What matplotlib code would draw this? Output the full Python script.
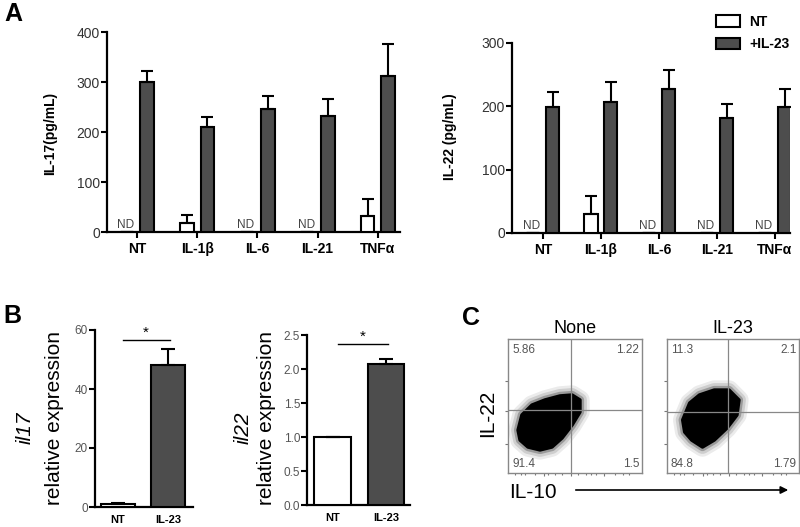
import numpy as np
import matplotlib
matplotlib.use('Agg')
import matplotlib.pyplot as plt
from matplotlib.patches import Patch, Polygon

plt.rcParams['font.family'] = ['Liberation Sans', 'DejaVu Sans']

# ---- panel A data (pg/mL) ----
cytokines = ['NT', 'IL-1β', 'IL-6', 'IL-21', 'TNFα']
il17_nt = [0, 18, 0, 0, 33]
il17_nt_err = [0, 17, 0, 0, 33]
il17_nd = [True, False, True, True, False]
il17_il23 = [300, 211, 247, 232, 312]
il17_il23_err = [22, 20, 25, 35, 65]

il22_nt = [0, 30, 0, 0, 0]
il22_nt_err = [0, 29, 0, 0, 0]
il22_nd = [True, False, True, True, True]
il22_il23 = [199, 207, 228, 181, 199]
il22_il23_err = [23, 31, 30, 22, 29]

# ---- panel B data (relative expression) ----
b_groups = ['NT', 'IL-23']
il17_expr = [1.0, 48.0]
il17_expr_err = [0.3, 5.5]
il22_expr = [1.0, 2.08]
il22_expr_err = [0.0, 0.06]

# ---- panel C data (flow quadrants, outline of the dense cell cloud in axis units) ----
flow_titles = ['None', 'IL-23']
quad_none = ['5.86', '1.22', '91.4', '1.5']
quad_il23 = ['11.3', '2.1', '84.8', '1.79']
gate_none = (0.47, 0.47)
gate_il23 = (0.459, 0.455)
cloud_none_x = [0.075, 0.104, 0.179, 0.276, 0.388, 0.478, 0.537, 0.537, 0.478, 0.403, 0.328, 0.239, 0.149, 0.090]
cloud_none_y = [0.320, 0.433, 0.507, 0.545, 0.575, 0.582, 0.545, 0.455, 0.358, 0.261, 0.194, 0.172, 0.194, 0.246]
cloud_il23_x = [0.119, 0.172, 0.246, 0.358, 0.470, 0.545, 0.530, 0.455, 0.358, 0.269, 0.187, 0.134]
cloud_il23_y = [0.396, 0.522, 0.582, 0.619, 0.619, 0.545, 0.433, 0.336, 0.246, 0.194, 0.246, 0.306]

DARK = '#4d4d4d'
W, H = 800, 527


def px_axes(fig, x0, x1, y_top, y_bot):
    return fig.add_axes([x0 / W, 1 - y_bot / H, (x1 - x0) / W, (y_bot - y_top) / H])


def style_bar_axes(ax, label_size=10, tick_color='#333333'):
    for s in ['top', 'right']:
        ax.spines[s].set_visible(False)
    for s in ['left', 'bottom']:
        ax.spines[s].set_linewidth(1.6)
    ax.tick_params(axis='y', length=4, width=1.5, labelsize=label_size, labelcolor=tick_color, pad=1)
    ax.tick_params(axis='x', length=4, width=1.5, pad=3)


fig = plt.figure(figsize=(8, 5.27), dpi=100)

# ---------------- panel A ----------------
def cytokine_panel(ax, nt, nt_err, nd, il23, il23_err, ymax, step):
    x = np.arange(len(cytokines))
    w, off = 0.23, 0.17
    ax.bar(x - off, nt, w, color='white', edgecolor='black', linewidth=1.5, zorder=3,
           yerr=[np.zeros(len(nt)), nt_err], capsize=4,
           error_kw=dict(elinewidth=1.5, capthick=1.5, ecolor='black'))
    ax.bar(x + off, il23, w, color=DARK, edgecolor='black', linewidth=1.5, zorder=3,
           yerr=[np.zeros(len(il23)), il23_err], capsize=4,
           error_kw=dict(elinewidth=1.5, capthick=1.5, ecolor='black'))
    for i, is_nd in enumerate(nd):
        if is_nd:
            ax.text(x[i] - off - 0.02, ymax * 0.005, 'ND', ha='center', va='bottom',
                    fontsize=8.5, color='#444444')
    ax.set_ylim(0, ymax)
    ax.set_yticks(np.arange(0, ymax + 1, step))
    ax.set_xticks(x)
    ax.set_xticklabels(cytokines, fontweight='bold', fontsize=10)
    style_bar_axes(ax)


axA1 = px_axes(fig, 107, 400, 32, 232)
cytokine_panel(axA1, il17_nt, il17_nt_err, il17_nd, il17_il23, il17_il23_err, 400, 100)
axA1.set_xlim(-0.5, 4.37)

axA2 = px_axes(fig, 512, 790, 43, 233)
cytokine_panel(axA2, il22_nt, il22_nt_err, il22_nd, il22_il23, il22_il23_err, 300, 100)
axA2.set_xlim(-0.53, 4.26)

fig.text(50 / W, 1 - 133 / H, 'IL-17(pg/mL)', rotation=90, ha='center', va='center',
         fontsize=10, fontweight='bold')
fig.text(450 / W, 1 - 137 / H, 'IL-22 (pg/mL)', rotation=90, ha='center', va='center',
         fontsize=10, fontweight='bold')

handles = [Patch(facecolor='white', edgecolor='black', linewidth=1.5),
           Patch(facecolor=DARK, edgecolor='black', linewidth=1.5)]
fig.legend(handles, ['NT', '+IL-23'], loc='upper left', bbox_to_anchor=(716 / W, 1 - 15 / H),
           frameon=False, borderpad=0, borderaxespad=0, handlelength=1.7, handleheight=0.9,
           handletextpad=0.7, labelspacing=0.6, prop=dict(weight='bold', size=10))

fig.text(4 / W, 1 - 2 / H, 'A', fontsize=18, fontweight='bold', va='top', ha='left')

# ---------------- panel B ----------------
def expr_panel(ax, vals, errs, ymax, step, fmt, sig_y):
    x = np.arange(len(b_groups))
    colors = ['white', DARK]
    ax.bar(x, vals, 0.69, color=colors, edgecolor='black', linewidth=1.5, zorder=3,
           yerr=[np.zeros(len(vals)), errs], capsize=5,
           error_kw=dict(elinewidth=1.5, capthick=1.5, ecolor='black'))
    ax.plot([0.1, 1.03], [sig_y, sig_y], color='black', lw=1)
    ax.text(0.56, sig_y, '*', ha='center', va='bottom', fontsize=11)
    ax.set_ylim(0, ymax)
    ticks = np.arange(0, ymax + step / 2, step)
    ax.set_yticks(ticks)
    ax.set_yticklabels([fmt.format(t) for t in ticks])
    ax.set_xticks(x)
    ax.set_xticklabels(b_groups, fontweight='bold', fontsize=8)
    style_bar_axes(ax, label_size=8.5, tick_color='#555555')
    ax.tick_params(axis='x', length=0, pad=6)


axB1 = px_axes(fig, 95, 193, 330, 507)
expr_panel(axB1, il17_expr, il17_expr_err, 60, 20, '{:.0f}', 56.6)
axB1.set_xlim(-0.46, 1.5)

axB2 = px_axes(fig, 307, 410, 335, 505)
expr_panel(axB2, il22_expr, il22_expr_err, 2.5, 0.5, '{:.1f}', 2.37)
axB2.set_xlim(-0.48, 1.45)

fig.text(25 / W, 1 - 428 / H, 'il17', rotation=90, ha='center', va='center',
         fontsize=15, style='italic')
fig.text(55 / W, 1 - 418 / H, 'relative expression', rotation=90, ha='center', va='center',
         fontsize=15)
fig.text(243 / W, 1 - 428 / H, 'il22', rotation=90, ha='center', va='center',
         fontsize=15, style='italic')
fig.text(266 / W, 1 - 418 / H, 'relative expression', rotation=90, ha='center', va='center',
         fontsize=15)

fig.text(3 / W, 1 - 304 / H, 'B', fontsize=18, fontweight='bold', va='top', ha='left')

# ---------------- panel C ----------------
def flow_panel(ax, title, quads, gate, cx, cy):
    ax.set_xlim(0, 1)
    ax.set_ylim(0, 1)
    for s in ax.spines.values():
        s.set_color('#888888')
        s.set_linewidth(1)
    pts = np.column_stack([cx, cy])
    # soft fringe of sparse events around the dense core
    for lw, a in [(14, 0.08), (10, 0.12), (6, 0.25)]:
        ax.add_patch(Polygon(pts, closed=True, facecolor='none', edgecolor='black',
                             linewidth=lw, alpha=a, joinstyle='round', zorder=2))
    ax.add_patch(Polygon(pts, closed=True, facecolor='black', edgecolor='black',
                         linewidth=2.5, joinstyle='round', zorder=3))
    ax.axvline(gate[0], color='#888888', lw=0.9, zorder=4)
    ax.axhline(gate[1], color='#888888', lw=0.9, zorder=4)
    ax.set_xticks([0.27, 0.47, 0.72])
    ax.set_yticks([0.22, 0.46, 0.69])
    ax.set_xticks([0.05, 0.1, 0.13, 0.2, 0.3, 0.35, 0.4, 0.52, 0.58, 0.62, 0.66, 0.8, 0.86, 0.9],
                  minor=True)
    ax.tick_params(which='both', length=2, width=0.8, color='#777777',
                   labelbottom=False, labelleft=False)
    ax.tick_params(which='minor', length=1.5)
    kw = dict(fontsize=8.5, color='#555555', transform=ax.transAxes)
    ax.text(0.03, 0.965, quads[0], ha='left', va='top', **kw)
    ax.text(0.98, 0.965, quads[1], ha='right', va='top', **kw)
    ax.text(0.03, 0.02, quads[2], ha='left', va='bottom', **kw)
    ax.text(0.98, 0.02, quads[3], ha='right', va='bottom', **kw)
    ax.set_title(title, fontsize=13, pad=4)


axC1 = px_axes(fig, 508, 642, 339, 473)
flow_panel(axC1, flow_titles[0], quad_none, gate_none, cloud_none_x, cloud_none_y)
axC2 = px_axes(fig, 667, 799, 339, 473)
flow_panel(axC2, flow_titles[1], quad_il23, gate_il23, cloud_il23_x, cloud_il23_y)

fig.text(488 / W, 1 - 413 / H, 'IL-22', rotation=90, ha='center', va='center', fontsize=15)
fig.text(533 / W, 1 - 492 / H, 'IL-10', ha='center', va='center', fontsize=15)
fig.add_artist(matplotlib.patches.FancyArrowPatch(
    (573 / W, 1 - 490 / H), (791 / W, 1 - 490 / H), transform=fig.transFigure,
    arrowstyle='-|>', mutation_scale=11, lw=1.2, color='black'))

fig.text(462 / W, 1 - 306 / H, 'C', fontsize=18, fontweight='bold', va='top', ha='left')

fig.savefig('out.png', dpi=100)
